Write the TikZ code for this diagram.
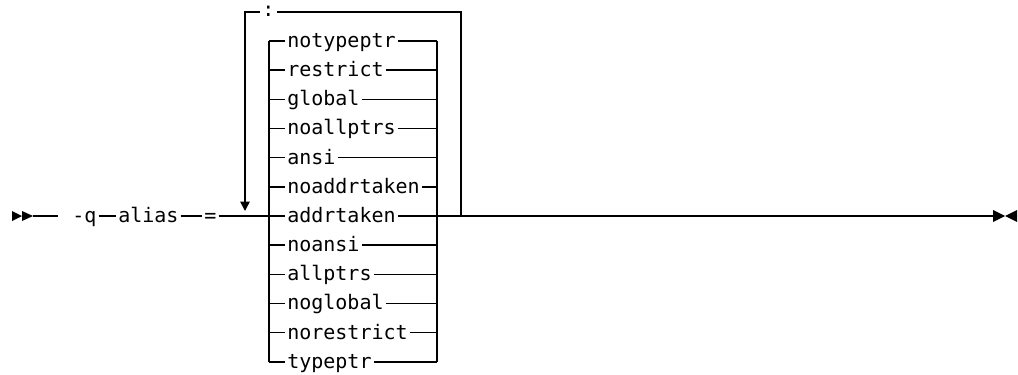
\documentclass[tikz,border=0pt]{standalone}
\usepackage{fontspec}
\setmonofont{DejaVu Sans Mono}
\usetikzlibrary{arrows.meta}

\begin{document}
\begin{tikzpicture}[x = 0.75pt, y = -0.75pt]
\tikzstyle{RailStyle} = [line width = 1.1pt, draw = black]
\tikzstyle{keywordStyle} = [anchor = west, inner sep = 1.5pt, text height = 14pt, text depth = 4.4pt, font = \ttfamily\fontsize{15pt}{18pt}\selectfont]
\tikzstyle{repeatArrow} = [-{Triangle[length = 7pt, width = 7pt]}]
\useasboundingbox (0,0) rectangle (1018,375);
% start and end marks
\fill (12,211) -- (22,216) -- (12,221) -- cycle;
\fill (22,211) -- (33,216) -- (22,221) -- cycle;
\fill (993,210) -- (1005,216) -- (993,222) -- cycle;
\fill (1017,210) -- (1005,216) -- (1017,222) -- cycle;
\coordinate (s0) at (33,216);
\coordinate (s1) at (58,216);
\coordinate (e0) at (993,216);
% keywords
\node[keywordStyle] (q) at (70,216) {-q};
\node[keywordStyle] (alias) at (116,216) {alias};
\node[keywordStyle] (eq) at (202,216) {=};
% repeat loop
\coordinate (lt) at (245,12);
\coordinate (la) at (245,211);
\node[keywordStyle] (sep) at (260,10) {:};
\coordinate (rt) at (461,12);
\coordinate (rb) at (461,216);
% choices
\coordinate (cl0) at (269,41);
\coordinate (cl1) at (269,361.83);
\coordinate (cr0) at (437,41);
\coordinate (cr1) at (437,361.83);
\node[keywordStyle] (c0) at (285,41) {notypeptr};
\node[keywordStyle] (c1) at (285,70.17) {restrict};
\node[keywordStyle] (c2) at (285,99.33) {global};
\node[keywordStyle] (c3) at (285,128.5) {noallptrs};
\node[keywordStyle] (c4) at (285,157.67) {ansi};
\node[keywordStyle] (c5) at (285,186.83) {noaddrtaken};
\node[keywordStyle] (c6) at (285,216) {addrtaken};
\node[keywordStyle] (c7) at (285,245.17) {noansi};
\node[keywordStyle] (c8) at (285,274.33) {allptrs};
\node[keywordStyle] (c9) at (285,303.5) {noglobal};
\node[keywordStyle] (c10) at (285,332.67) {norestrict};
\node[keywordStyle] (c11) at (285,361.83) {typeptr};
% rails
\draw[RailStyle] (s0) -- (s1);
\draw[RailStyle] (q.east) -- (alias.west);
\draw[RailStyle] (alias.east) -- (eq.west);
\draw[RailStyle] (eq.east) -- (cl0 |- c6.west);
\draw[RailStyle, repeatArrow] (sep.west |- lt) -- (lt) -- (la);
\draw[RailStyle] (sep.east |- rt) -- (rt) -- (rb);
\draw[RailStyle] (cl0) -- (cl1);
\draw[RailStyle] (cr0) -- (cr1);
\draw[RailStyle] (cl0 |- c0.west) -- (c0.west) (c0.east) -- (cr0 |- c0.east);
\draw[RailStyle] (cl0 |- c1.west) -- (c1.west) (c1.east) -- (cr0 |- c1.east);
\draw[RailStyle] (cl0 |- c2.west) -- (c2.west) (c2.east) -- (cr0 |- c2.east);
\draw[RailStyle] (cl0 |- c3.west) -- (c3.west) (c3.east) -- (cr0 |- c3.east);
\draw[RailStyle] (cl0 |- c4.west) -- (c4.west) (c4.east) -- (cr0 |- c4.east);
\draw[RailStyle] (cl0 |- c5.west) -- (c5.west) (c5.east) -- (cr0 |- c5.east);
\draw[RailStyle] (cl0 |- c6.west) -- (c6.west) (c6.east) -- (cr0 |- c6.east);
\draw[RailStyle] (cl0 |- c7.west) -- (c7.west) (c7.east) -- (cr0 |- c7.east);
\draw[RailStyle] (cl0 |- c8.west) -- (c8.west) (c8.east) -- (cr0 |- c8.east);
\draw[RailStyle] (cl0 |- c9.west) -- (c9.west) (c9.east) -- (cr0 |- c9.east);
\draw[RailStyle] (cl0 |- c10.west) -- (c10.west) (c10.east) -- (cr0 |- c10.east);
\draw[RailStyle] (cl0 |- c11.west) -- (c11.west) (c11.east) -- (cr0 |- c11.east);
\draw[RailStyle] (cr0 |- c6.east) -- (rb) -- (e0);
\end{tikzpicture}
\end{document}
